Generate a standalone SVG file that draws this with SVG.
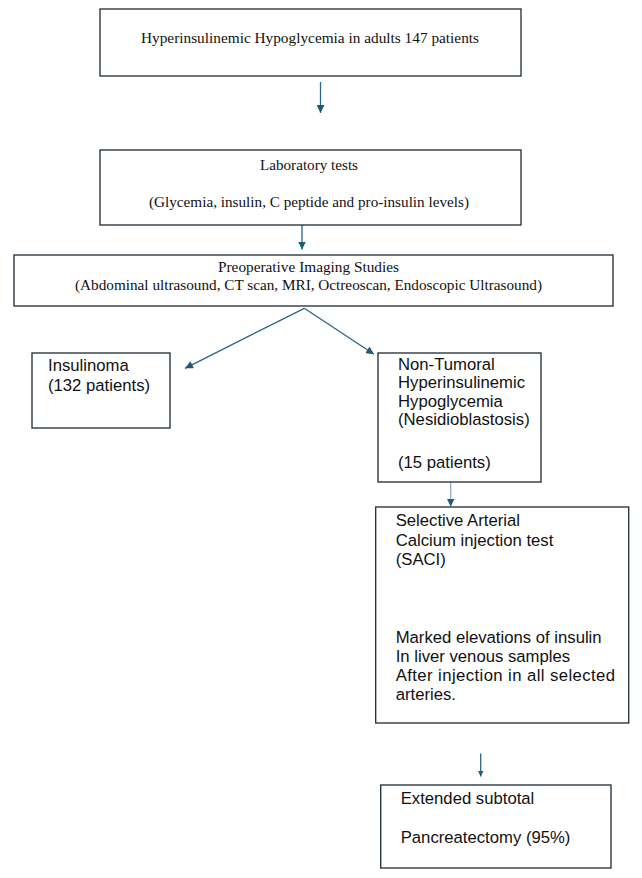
<svg xmlns="http://www.w3.org/2000/svg" width="642" height="878" viewBox="0 0 642 878">
<defs>
<style>
.box{fill:#fff;stroke:#1c2a33;stroke-width:1.3}
.serif{font-family:"Liberation Serif","Times New Roman",serif;font-size:14.5px;fill:#111}
.sans{font-family:"Liberation Sans",Arial,sans-serif;font-size:16.7px;fill:#111}
.conn{stroke:#2b6585;stroke-width:1.3;fill:none}
</style>
<marker id="ah" viewBox="0 0 10 10" refX="10" refY="5" markerWidth="8" markerHeight="8" markerUnits="userSpaceOnUse" orient="auto">
<path d="M0,0 L10,5 L0,10 z" fill="#1f5a78"/>
</marker>
<marker id="ahs" viewBox="0 0 10 10" refX="10" refY="5" markerWidth="6" markerHeight="6" markerUnits="userSpaceOnUse" orient="auto">
<path d="M0,0 L10,5 L0,10 z" fill="#1f5a78"/>
</marker>
</defs>
<rect width="642" height="878" fill="#fff"/>
<g id="connectors">
<line class="conn" x1="320.5" y1="82" x2="320.5" y2="113" marker-end="url(#ah)"/>
<line class="conn" x1="302" y1="225" x2="302" y2="249.5" marker-end="url(#ah)"/>
<line class="conn" x1="304.3" y1="308.3" x2="185" y2="368.3" marker-end="url(#ah)"/>
<line class="conn" x1="304.3" y1="308.3" x2="374" y2="354.3" marker-end="url(#ah)"/>
<line class="conn" style="stroke:#8fb0c0" x1="450.7" y1="482" x2="450.7" y2="506.5" marker-end="url(#ah)"/>
<line class="conn" x1="480.7" y1="753.5" x2="480.7" y2="776.5" marker-end="url(#ahs)"/>
</g>
<g id="n1">
<rect class="box" x="100" y="9" width="421" height="67"/>
<text class="serif" x="141" y="43.3" textLength="338" lengthAdjust="spacingAndGlyphs">Hyperinsulinemic Hypoglycemia in adults 147 patients</text>
</g>
<g id="n2">
<rect class="box" x="100" y="150" width="421" height="75"/>
<text class="serif" x="260" y="170" textLength="98" lengthAdjust="spacingAndGlyphs">Laboratory tests</text>
<text class="serif" x="149" y="207" textLength="320" lengthAdjust="spacingAndGlyphs">(Glycemia, insulin, C peptide and pro-insulin levels)</text>
</g>
<g id="n3">
<rect class="box" x="14" y="255" width="599" height="51"/>
<text class="serif" x="218" y="272" textLength="181" lengthAdjust="spacingAndGlyphs">Preoperative Imaging Studies</text>
<text class="serif" x="75" y="290" textLength="467" lengthAdjust="spacingAndGlyphs">(Abdominal ultrasound, CT scan, MRI, Octreoscan, Endoscopic Ultrasound)</text>
</g>
<g id="n4">
<rect class="box" x="32" y="353" width="138" height="75"/>
<text class="sans" x="48" y="371">Insulinoma</text>
<text class="sans" x="48" y="390.5">(132 patients)</text>
</g>
<g id="n5">
<rect class="box" x="378" y="353" width="163" height="129"/>
<text class="sans" x="398" y="369.5">Non-Tumoral</text>
<text class="sans" x="398" y="388">Hyperinsulinemic</text>
<text class="sans" x="398" y="406.5">Hypoglycemia</text>
<text class="sans" x="398" y="425">(Nesidioblastosis)</text>
<text class="sans" x="398" y="467.5">(15 patients)</text>
</g>
<g id="n6">
<rect class="box" x="375.7" y="507" width="253" height="216"/>
<text class="sans" x="395.7" y="526">Selective Arterial</text>
<text class="sans" x="395.7" y="545.5">Calcium injection test</text>
<text class="sans" x="395.7" y="565">(SACI)</text>
<text class="sans" x="395.7" y="642.5">Marked elevations of insulin</text>
<text class="sans" x="395.7" y="661.5">In liver venous samples</text>
<text class="sans" x="395.7" y="681" textLength="219.3" lengthAdjust="spacing">After injection in all selected</text>
<text class="sans" x="395.7" y="700">arteries.</text>
</g>
<g id="n7">
<rect class="box" x="380.7" y="785" width="230.3" height="83"/>
<text class="sans" x="400.7" y="804">Extended subtotal</text>
<text class="sans" x="400.7" y="842.7">Pancreatectomy (95%)</text>
</g>
</svg>
